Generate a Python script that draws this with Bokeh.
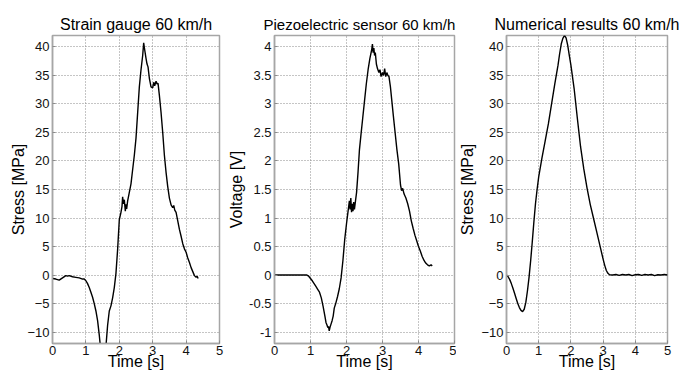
from bokeh.plotting import figure
from bokeh.layouts import row
from bokeh.models import FixedTicker, CustomJSTickFormatter, Range1d
from bokeh.embed import file_html
from bokeh.resources import INLINE

# ---------------- data ----------------
titles = ["Strain gauge 60 km/h", "Piezoelectric sensor 60 km/h", "Numerical results 60 km/h"]
ylabels = ["Stress [MPa]", "Voltage [V]", "Stress [MPa]"]
xlabel = "Time [s]"
xticks = [0, 1, 2, 3, 4, 5]
yticks_stress = [-10, -5, 0, 5, 10, 15, 20, 25, 30, 35, 40]
yticks_volt = [-1, -0.5, 0, 0.5, 1, 1.5, 2, 2.5, 3, 3.5, 4]

gauge_t = [0.0, 0.1, 0.2, 0.3, 0.4, 0.45, 0.5, 0.6, 0.7, 0.8, 0.9, 0.95, 1.0, 1.05, 1.1,
           1.15, 1.2, 1.25, 1.3, 1.35, 1.4, 1.45, 1.5, 1.55, 1.6, 1.65, 1.7, 1.75, 1.8,
           1.85, 1.9, 1.95, 2.0, 2.05, 2.08, 2.1, 2.12, 2.15, 2.18, 2.2, 2.22, 2.25, 2.3,
           2.35, 2.4, 2.45, 2.5, 2.55, 2.6, 2.65, 2.7, 2.73, 2.76, 2.8, 2.83, 2.86, 2.9,
           2.95, 3.0, 3.03, 3.06, 3.1, 3.13, 3.16, 3.2, 3.25, 3.3, 3.35, 3.4, 3.45, 3.5,
           3.55, 3.6, 3.63, 3.66, 3.7, 3.75, 3.8, 3.85, 3.9, 3.95, 4.0, 4.05, 4.1, 4.15,
           4.2, 4.25, 4.3, 4.33, 4.36]
gauge_v = [-0.6, -0.7, -0.9, -0.5, -0.1, -0.2, -0.1, -0.3, -0.4, -0.5, -0.7, -0.7, -1.0,
           -1.5, -2.2, -3.0, -3.9, -5.0, -6.3, -8.0, -10.5, -13.5, -16.0, -14.5, -12.5,
           -8.8, -6.3, -5.4, -4.0, -2.2, 0.3, 4.5, 9.7, 11.0, 12.0, 13.7, 12.5, 13.2, 11.2,
           12.4, 11.6, 13.0, 14.5, 16.0, 18.5, 21.0, 24.0, 28.5, 33.0, 36.0, 38.5, 40.7,
           39.5, 38.0, 37.0, 36.5, 34.5, 33.0, 32.8, 33.8, 33.2, 34.0, 33.5, 33.6, 31.5,
           28.5, 25.0, 21.0, 18.0, 15.5, 13.5, 12.3, 11.8, 12.2, 11.4, 11.0, 9.5, 8.0, 6.8,
           5.5, 4.6, 4.0, 3.0, 2.2, 1.3, 0.6, -0.1, -0.4, -0.2, -0.6]

piezo_t = [0.0, 0.5, 0.9, 0.95, 1.0, 1.05, 1.1, 1.15, 1.2, 1.25, 1.3, 1.35, 1.4, 1.43, 1.46,
           1.48, 1.5, 1.52, 1.54, 1.57, 1.6, 1.63, 1.66, 1.7, 1.75, 1.8, 1.85, 1.9, 1.95,
           2.0, 2.03, 2.06, 2.08, 2.1, 2.12, 2.14, 2.16, 2.18, 2.2, 2.22, 2.25, 2.28, 2.32,
           2.36, 2.4, 2.45, 2.5, 2.55, 2.6, 2.65, 2.7, 2.72, 2.74, 2.76, 2.78, 2.8, 2.83,
           2.86, 2.9, 2.93, 2.96, 3.0, 3.03, 3.06, 3.09, 3.12, 3.15, 3.18, 3.22, 3.26, 3.3,
           3.35, 3.4, 3.45, 3.5, 3.53, 3.56, 3.6, 3.65, 3.7, 3.75, 3.8, 3.85, 3.9, 3.95,
           4.0, 4.05, 4.1, 4.15, 4.2, 4.25, 4.3, 4.35, 4.38]
piezo_v = [0.0, 0.0, 0.0, -0.02, -0.06, -0.1, -0.15, -0.2, -0.25, -0.3, -0.4, -0.55, -0.72,
           -0.83, -0.88, -0.92, -0.9, -0.98, -0.92, -0.86, -0.8, -0.72, -0.58, -0.5, -0.38,
           -0.24, -0.05, 0.25, 0.62, 0.9, 1.05, 1.2, 1.3, 1.15, 1.35, 1.1, 1.25, 1.12, 1.28,
           1.15, 1.3, 1.45, 1.8, 2.2, 2.45, 2.75, 3.05, 3.35, 3.6, 3.8, 3.95, 4.05, 3.9,
           3.98, 3.85, 3.9, 3.7, 3.62, 3.55, 3.6, 3.48, 3.55, 3.5, 3.62, 3.48, 3.55, 3.5,
           3.48, 3.3, 3.05, 2.8, 2.5, 2.2, 1.95, 1.58, 1.48, 1.52, 1.42, 1.35, 1.25, 1.12,
           0.95, 0.82, 0.7, 0.6, 0.5, 0.42, 0.33, 0.26, 0.21, 0.18, 0.16, 0.18, 0.16]

num_t = [0.0, 0.05, 0.1, 0.15, 0.2, 0.25, 0.3, 0.35, 0.4, 0.45, 0.5, 0.55, 0.6, 0.65, 0.7,
         0.75, 0.8, 0.85, 0.9, 0.95, 1.0, 1.1, 1.2, 1.3, 1.4, 1.5, 1.6, 1.65, 1.7, 1.75,
         1.8, 1.85, 1.9, 1.95, 2.0, 2.1, 2.2, 2.3, 2.4, 2.5, 2.6, 2.7, 2.8, 2.9, 3.0, 3.05,
         3.1, 3.15, 3.2, 3.3, 3.4, 3.5, 3.6, 3.7, 3.8, 3.9, 4.0, 4.1, 4.2, 4.3, 4.4, 4.5,
         4.6, 4.7, 4.8, 4.9, 5.0]
num_v = [0.0, -0.3, -0.8, -1.5, -2.3, -3.2, -4.1, -5.0, -5.7, -6.2, -6.4, -6.0, -4.8, -2.8,
         -0.4, 2.5, 5.8, 9.3, 12.5, 15.0, 17.2, 20.5, 23.5, 26.5, 30.0, 33.5, 36.8, 38.8,
         40.5, 41.5, 42.0, 41.6, 40.3, 38.5, 36.8, 32.7, 27.5, 22.5, 18.6, 15.3, 12.4, 10.0,
         7.6, 5.2, 2.8, 1.7, 0.8, 0.3, 0.05, 0.0, 0.1, -0.05, 0.1, 0.0, 0.1, -0.1, 0.05,
         0.1, -0.05, 0.1, 0.0, 0.1, -0.1, 0.05, 0.0, 0.1, 0.0]

FONT = "Liberation Sans"


def make_panel(title, ylabel, t, v, yr, yticks, width, left, right,
               fmt=None, title_size="16px", title_align="center", title_offset=0,
               ylabel_standoff=2):
    p = figure(width=width, height=376, x_range=Range1d(0, 5), y_range=Range1d(*yr),
               output_backend="svg", toolbar_location=None, title=title,
               min_border_left=left, min_border_right=right,
               min_border_top=35, min_border_bottom=33)
    p.title.text_font = FONT
    p.title.text_font_size = title_size
    p.title.text_font_style = "normal"
    p.title.text_color = "#000000"
    p.title.align = title_align
    p.title.standoff = 5
    p.title.offset = title_offset

    p.line(t, v, line_color="black", line_width=1.4)

    p.xaxis.ticker = FixedTicker(ticks=xticks)
    p.yaxis.ticker = FixedTicker(ticks=yticks)
    if fmt is not None:
        p.yaxis.formatter = fmt
    p.xaxis.axis_label = xlabel
    p.yaxis.axis_label = ylabel
    for ax in (p.xaxis[0], p.yaxis[0]):
        ax.axis_label_text_font = FONT
        ax.axis_label_text_font_size = "16px"
        ax.axis_label_text_font_style = "normal"
        ax.axis_label_text_color = "#000000"
        ax.major_label_text_font = FONT
        ax.major_label_text_font_size = "13px"
        ax.major_label_text_color = "#111111"
        ax.major_label_standoff = 3
        ax.major_tick_in = 3
        ax.major_tick_out = 0
        ax.major_tick_line_color = "#8c8c8c"
        ax.minor_tick_line_color = None
        ax.axis_line_color = "#a6a6a6"
        ax.axis_line_width = 1.5
    p.xaxis.major_label_standoff = 2
    p.xaxis.axis_label_standoff = -5
    p.yaxis.axis_label_standoff = ylabel_standoff

    p.outline_line_color = "#a6a6a6"
    p.outline_line_width = 1.5
    p.grid.grid_line_color = "#8a8a8a"
    p.grid.grid_line_dash = "1 2"
    p.grid.grid_line_width = 1
    p.background_fill_color = "white"
    p.border_fill_color = "white"
    return p


volt_fmt = CustomJSTickFormatter(code="return tick.toString();")

p1 = make_panel(titles[0], ylabels[0], gauge_t, gauge_v, (-12, 42), yticks_stress,
                225, 52, 6, ylabel_standoff=-3)
p2 = make_panel(titles[1], ylabels[1], piezo_t, piezo_v, (-1.2, 4.2), yticks_volt,
                231, 48, 2, fmt=volt_fmt, title_size="15px", title_align="left",
                title_offset=-11, ylabel_standoff=1)
p3 = make_panel(titles[2], ylabels[2], num_t, num_v, (-12, 42), yticks_stress,
                233, 41, 22, ylabel_standoff=2)

layout = row(p1, p2, p3)
open("out.html", "w").write(file_html(layout, INLINE))
